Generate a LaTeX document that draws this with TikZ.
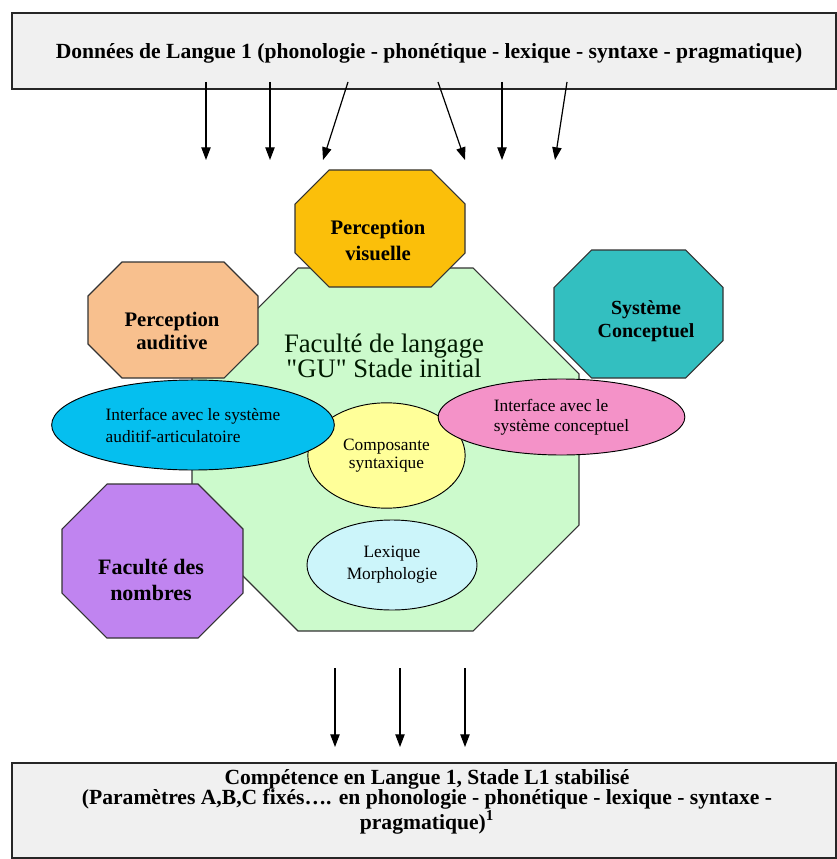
\documentclass[tikz,border=0pt]{standalone}
\usepackage{fontspec}
\setmainfont{Liberation Serif}[Ligatures=TeXOff]
\usetikzlibrary{arrows.meta,shapes.geometric}

\definecolor{boxgray}{HTML}{F0F0F0}
\definecolor{langgreen}{HTML}{CCFACC}
\definecolor{visgold}{HTML}{FBBF0A}
\definecolor{audpeach}{HTML}{F8C08E}
\definecolor{conteal}{HTML}{33BFC0}
\definecolor{numpurple}{HTML}{C084F0}
\definecolor{audblue}{HTML}{05BFEF}
\definecolor{conpink}{HTML}{F492C8}
\definecolor{synyellow}{HTML}{FFFF99}
\definecolor{lexcyan}{HTML}{CCF5FA}

% octagon: fill, centre x, centre y, half width, half height, corner cut
\newcommand{\octa}[6]{%
  \filldraw[octaline, fill=#1]
    ({#2-#4+#6},{#3-#5}) -- ({#2+#4-#6},{#3-#5}) -- ({#2+#4},{#3-#5+#6})
    -- ({#2+#4},{#3+#5-#6}) -- ({#2+#4-#6},{#3+#5}) -- ({#2-#4+#6},{#3+#5})
    -- ({#2-#4},{#3+#5-#6}) -- ({#2-#4},{#3-#5+#6}) -- cycle;}

\tikzset{
  databox/.style={draw=black!85, fill=boxgray, line width=0.8pt, inner sep=0pt},
  datatext/.style={align=center, font=\bfseries\fontsize{16.2}{15}\selectfont},
  octaline/.style={draw=black!80, line width=0.8pt},
  octatext/.style={align=center, font=\bfseries\fontsize{15.5}{19.5}\selectfont},
  bubble/.style={ellipse, draw=black, line width=0.7pt, inner sep=0pt, align=center,
    font=\fontsize{13}{16.5}\selectfont},
  flow/.style={-{Triangle[length=9.5pt,width=7pt]}, line width=0.9pt},
}

\begin{document}
\begin{tikzpicture}[x=0.75pt, y=-0.75pt]
\useasboundingbox (0,0) rectangle (836,859);

% input data
\node[databox, minimum width=618pt, minimum height=57pt] (donnees) at (424,51) {};
\node[datatext] (donneestext) at (429,53)
  {Données de Langue 1 (phonologie - phonétique - lexique - syntaxe - pragmatique)};
\foreach \a/\b [count=\i] in {206/206, 270/270, 348/323, 438/465, 502/502, 567/555} {
  \coordinate (from\i) at (\a,82);
  \coordinate (to\i) at (\b,160);
  \draw[flow] (from\i) -- (to\i);
}

% language faculty
\octa{langgreen}{385.5}{449.5}{193.5}{181.5}{106}
\node[align=center, text=black!90!green, font=\fontsize{20}{19}\selectfont]
  (faculte) at (384,356) {Faculté de langage\\"GU" Stade initial};
\node[bubble, fill=synyellow, minimum width=118pt, minimum height=79pt,
  font=\fontsize{13}{13.5}\selectfont]
  (syntaxe) at (386.5,455.5) {Composante\\syntaxique};
\node[bubble, fill=lexcyan, minimum width=127.5pt, minimum height=67.5pt]
  (lexique) at (392,565) {Lexique\\Morphologie};
\node[bubble, fill=audblue, align=left, minimum width=212pt, minimum height=67.5pt]
  (interaud) at (193,425) {Interface avec le système\\auditif-articulatoire};
\node[bubble, fill=conpink, align=left, minimum width=185pt, minimum height=57pt,
  font=\fontsize{13}{15}\selectfont]
  (intercon) at (561.5,417) {Interface avec le\\système conceptuel};

% neighbouring systems
\octa{audpeach}{173}{320}{85}{58}{34}
\node[octatext, font=\bfseries\fontsize{15.5}{17.5}\selectfont] (auditive) at (172,331) {Perception\\auditive};
\octa{visgold}{380}{228.5}{85}{58.5}{34}
\node[octatext] (visuelle) at (378,240) {Perception\\visuelle};
\octa{numpurple}{152.5}{561}{90.5}{77}{45}
\node[octatext, font=\bfseries\fontsize{16.5}{19.5}\selectfont] (nombres) at (151,580) {Faculté des\\nombres};
\octa{conteal}{638.5}{314}{84.5}{64}{37.5}
\node[octatext, font=\bfseries\fontsize{15}{17.5}\selectfont] (concept) at (646,321) {Système\\Conceptuel};

% stabilised competence
\foreach \a [count=\i] in {335,400,465} {
  \coordinate (up\i) at (\a,668);
  \coordinate (down\i) at (\a,747);
  \draw[flow] (up\i) -- (down\i);
}
\node[databox, minimum width=618pt, minimum height=71.25pt] (competence) at (424,810.5) {};
\node[datatext] (competencetext) at (427,802)
  {Compétence en Langue 1, Stade L1 stabilisé\\
   (Paramètres A,B,C fixés…. en phonologie - phonétique - lexique - syntaxe -\\
   pragmatique)\textsuperscript{1}};
\end{tikzpicture}
\end{document}
